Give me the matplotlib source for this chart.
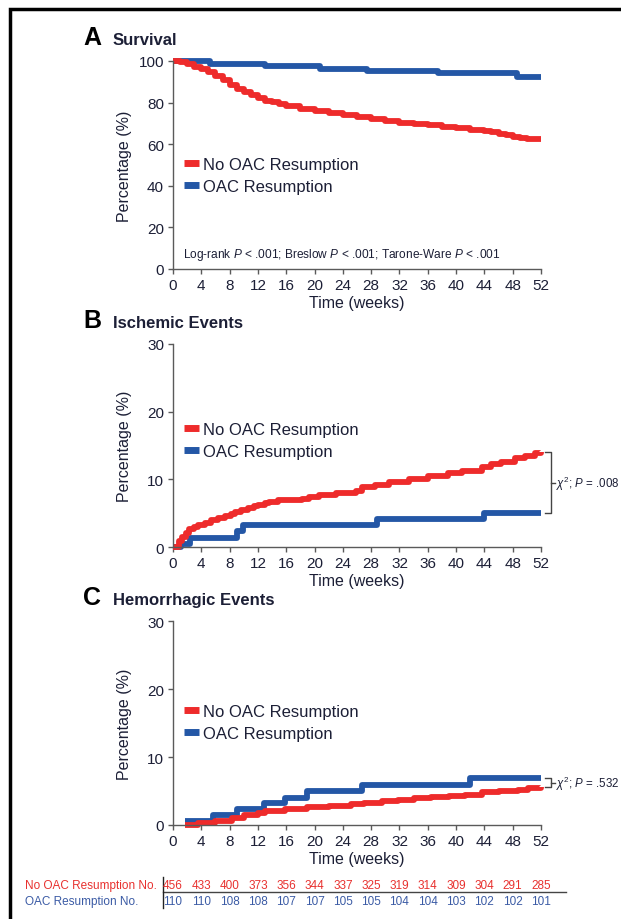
import numpy as np
import matplotlib
matplotlib.use('Agg')
import matplotlib.pyplot as plt
from matplotlib.lines import Line2D
from matplotlib.patches import Rectangle
import matplotlib.transforms as mtransforms

plt.rcParams['font.family'] = ['Liberation Sans', 'DejaVu Sans']
plt.rcParams['mathtext.fontset'] = 'custom'
plt.rcParams['mathtext.rm'] = 'Liberation Sans'
plt.rcParams['mathtext.it'] = 'Liberation Sans:italic'

RED = '#ee2b2b'
BLUE = '#2457a6'
INK = '#1c1f36'
SPINE = '#5a5a5a'

# ---- data ----
weeks_ticks = list(range(0, 53, 4))

# A: survival (%)
surv_no_t = [0, 1, 2, 3, 4, 5, 6, 7, 8, 9, 10, 11, 12, 13, 14, 15, 16, 18, 20, 22,
             24, 26, 28, 30, 32, 34, 36, 38, 40, 42, 44, 45, 46, 47, 48, 49, 50, 52]
surv_no_v = [100, 99.5, 98.5, 97, 96, 94.5, 93, 91, 88.5, 86.5, 85, 83.5, 82, 81, 80.2, 79.3,
             78.5, 77, 76, 75, 74, 73, 72, 71, 70.3, 69.6, 69, 68.3, 67.6, 67, 66.5, 65.8,
             65, 64.3, 63.7, 63.2, 62.7, 62.7]
surv_oac_t = [0, 5.2, 13, 20.8, 27.4, 37.5, 48.6, 52]
surv_oac_v = [100, 98.5, 97.7, 96, 95, 94.2, 92.5, 92.5]

# B: ischemic events (%)
isch_no_t = [0, 0.8, 1.3, 1.8, 2.3, 3, 3.6, 4.5, 5.4, 6.3, 7.3, 8.2, 8.7, 9.6, 10.6, 11.4,
             12, 13, 13.5, 14.9, 18.2, 19.2, 20.6, 23, 25.8, 26.7, 28.6, 30.5, 33.3, 36.1,
             38.9, 40.8, 43.6, 45, 46.4, 48.3, 49.8, 51.2, 52]
isch_no_v = [0, 0.9, 1.5, 2.0, 2.6, 3.0, 3.3, 3.6, 4.0, 4.3, 4.6, 4.9, 5.1, 5.4, 5.7, 6.0,
             6.2, 6.5, 6.7, 6.9, 7.1, 7.4, 7.7, 8.0, 8.3, 8.8, 9.2, 9.6, 10.0, 10.5, 11.0,
             11.3, 11.8, 12.2, 12.6, 13.1, 13.5, 13.9, 14.0]
isch_oac_t = [0, 1.2, 2.4, 9.0, 9.9, 28.8, 43.9, 52]
isch_oac_v = [0, 0.5, 1.4, 2.3, 3.2, 4.1, 5.0, 5.0]

# C: hemorrhagic events (%)
hem_no_t = [1.7, 3.6, 5.9, 8.3, 10, 12, 13, 15.8, 19, 22, 25.2, 27, 29.5, 31.8, 34, 36.5,
            39, 41.3, 43.6, 46, 48.8, 50.2, 52]
hem_no_v = [0.0, 0.3, 0.6, 1.1, 1.5, 1.8, 2.1, 2.4, 2.6, 2.85, 3.1, 3.3, 3.5, 3.7, 3.9, 4.1,
            4.25, 4.4, 4.8, 5.0, 5.2, 5.5, 5.6]
hem_oac_t = [1.7, 5.7, 9.0, 12.8, 15.8, 18.9, 26.7, 42, 52]
hem_oac_v = [0.6, 1.5, 2.3, 3.2, 4.0, 5.0, 5.9, 6.9, 6.9]

risk_no = [456, 433, 400, 373, 356, 344, 337, 325, 319, 314, 309, 304, 291, 285]
risk_oac = [110, 110, 108, 108, 107, 107, 105, 105, 104, 104, 103, 102, 102, 101]

fig = plt.figure(figsize=(6.21, 9.2), dpi=100)

# outer frame
fig.patches.append(Rectangle((0.016, -0.05), 1.2, 1.039, transform=fig.transFigure,
                             fill=False, edgecolor='black', linewidth=2.5))

W, H = 621.0, 920.0
def ax_box(top, bottom):
    return [173 / W, 1 - bottom / H, (541 - 173) / W, (bottom - top) / H]

axA = fig.add_axes(ax_box(62, 270))
axB = fig.add_axes(ax_box(345, 548))
axC = fig.add_axes(ax_box(622, 826))

panels = [
    (axA, 'A', 'Survival', 45, (0, 100), [0, 20, 40, 60, 80, 100],
     (surv_no_t, surv_no_v), (surv_oac_t, surv_oac_v), 0.4495),
    (axB, 'B', 'Ischemic Events', 328, (0, 30), [0, 10, 20, 30],
     (isch_no_t, isch_no_v), (isch_oac_t, isch_oac_v), 0.5246),
    (axC, 'C', 'Hemorrhagic Events', 605, (0, 30), [0, 10, 20, 30],
     (hem_no_t, hem_no_v), (hem_oac_t, hem_oac_v), 0.5025),
]

for ax, letter, title, base_y, ylim, yticks, red_d, blue_d, leg_y in panels:
    ax.step(blue_d[0], blue_d[1], where='post', color=BLUE, lw=4.2,
            solid_capstyle='butt', clip_on=False)
    ax.step(red_d[0], red_d[1], where='post', color=RED, lw=4.2,
            solid_capstyle='butt', clip_on=False)
    ax.set_xlim(0, 52)
    ax.set_ylim(*ylim)
    ax.set_xticks(weeks_ticks)
    ax.set_yticks(yticks)
    for s in ['top', 'right']:
        ax.spines[s].set_visible(False)
    for s in ['left', 'bottom']:
        ax.spines[s].set_color(SPINE)
        ax.spines[s].set_linewidth(1.0)
    ax.tick_params(length=3.5, width=1, color=SPINE, labelsize=11, labelcolor=INK, pad=3)
    ax.set_xlabel('Time (weeks)', fontsize=11.5, color=INK, labelpad=2)
    ax.set_ylabel('Percentage (%)', fontsize=11.5, color=INK)
    ax.yaxis.set_label_coords(-0.112, 0.5)
    handles = [Line2D([], [], color=RED, lw=5, solid_capstyle='butt'),
               Line2D([], [], color=BLUE, lw=5, solid_capstyle='butt')]
    ax.legend(handles, ['No OAC Resumption', 'OAC Resumption'], loc='center left',
              bbox_to_anchor=(0.03, leg_y), frameon=False, fontsize=12,
              handlelength=0.9, handletextpad=0.25, borderpad=0, borderaxespad=0,
              labelspacing=0.45, labelcolor=INK)
    fig.text(83 / W, 1 - base_y / H, letter, fontsize=18, fontweight='bold',
             color='black', va='baseline', ha='left')
    fig.text(113 / W, 1 - base_y / H, title, fontsize=12, fontweight='bold',
             color=INK, va='baseline', ha='left')

axA.text(0.027, 0.072, r'Log-rank $P$ < .001; Breslow $P$ < .001; Tarone-Ware $P$ < .001',
         transform=axA.transAxes, fontsize=8.6, color=INK, va='center', ha='left')

# brackets with chi-square p values
def bracket(ax, top, bottom, label):
    xb = 53.4
    ax.plot([52.6, xb, xb, 52.6], [top, top, bottom, bottom], color='#444444',
            lw=1, clip_on=False)
    mid = (top + bottom) / 2
    ax.plot([xb, 54.0], [mid, mid], color='#444444', lw=1, clip_on=False)
    ax.text(54.1, mid, label, fontsize=8.3, color=INK, va='center', ha='left')

bracket(axB, isch_no_v[-1], isch_oac_v[-1], r'$\chi^2$; $P$ = .008')
bracket(axC, hem_oac_v[-1], hem_no_v[-1], r'$\chi^2$; $P$ = .532')

# number at risk table
trans = mtransforms.blended_transform_factory(axC.transData, fig.transFigure)
y_red = 1 - 886 / H
y_blue = 1 - 902 / H
fig.text(25 / W, y_red, 'No OAC Resumption No.', fontsize=8.5, color='#e8312f',
         va='center', ha='left')
fig.text(25 / W, y_blue, 'OAC Resumption No.', fontsize=8.5, color='#3b5ba5',
         va='center', ha='left')
for wk, n_no, n_oac in zip(weeks_ticks, risk_no, risk_oac):
    fig.text(wk, y_red, str(n_no), transform=trans, fontsize=8.5, color='#e8312f',
             va='center', ha='center')
    fig.text(wk, y_blue, str(n_oac), transform=trans, fontsize=8.5, color='#3b5ba5',
             va='center', ha='center')
fig.lines.append(Line2D([163 / W, 566 / W], [1 - 893 / H, 1 - 893 / H],
                        transform=fig.transFigure, color='#444444', lw=1))
fig.lines.append(Line2D([163 / W, 163 / W], [1 - 878 / H, 1 - 909 / H],
                        transform=fig.transFigure, color='#222222', lw=1))

fig.savefig('out.png', dpi=100)
